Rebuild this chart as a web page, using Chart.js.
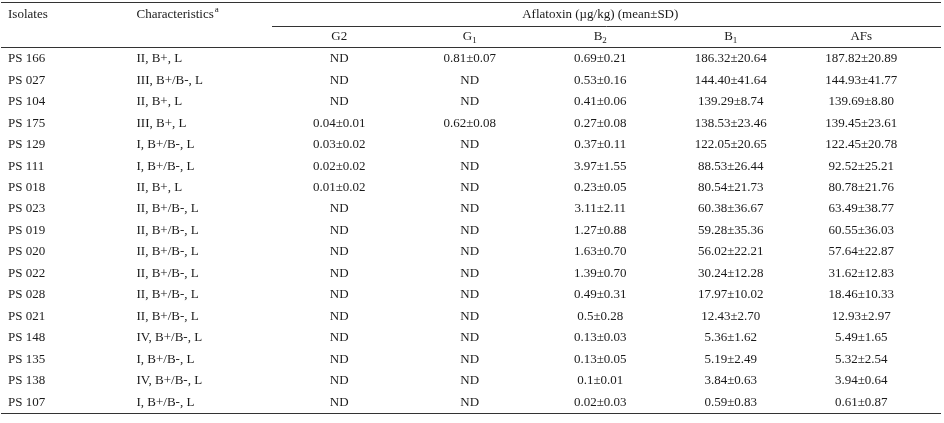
<!DOCTYPE html>
<html><head><meta charset="utf-8">
<script src="https://cdn.jsdelivr.net/npm/chart.js@4"></script>
<style>html,body{margin:0;padding:0;background:#fff}#w{width:944px;height:423px}</style>
</head><body><div id="w"><canvas id="c"></canvas></div>
<script>
const columns = ['Isolates','Characteristics','G2','G1','B2','B1','AFs'];
const isolates = ['PS 166','PS 027','PS 104','PS 175','PS 129','PS 111','PS 018','PS 023','PS 019','PS 020','PS 022','PS 028','PS 021','PS 148','PS 135','PS 138','PS 107'];
const characteristics = ['II, B+, L','III, B+/B-, L','II, B+, L','III, B+, L','I, B+/B-, L','I, B+/B-, L','II, B+, L','II, B+/B-, L','II, B+/B-, L','II, B+/B-, L','II, B+/B-, L','II, B+/B-, L','II, B+/B-, L','IV, B+/B-, L','I, B+/B-, L','IV, B+/B-, L','I, B+/B-, L'];
const g2 = ['ND','ND','ND','0.04±0.01','0.03±0.02','0.02±0.02','0.01±0.02','ND','ND','ND','ND','ND','ND','ND','ND','ND','ND'];
const g1 = ['0.81±0.07','ND','ND','0.62±0.08','ND','ND','ND','ND','ND','ND','ND','ND','ND','ND','ND','ND','ND'];
const b2 = ['0.69±0.21','0.53±0.16','0.41±0.06','0.27±0.08','0.37±0.11','3.97±1.55','0.23±0.05','3.11±2.11','1.27±0.88','1.63±0.70','1.39±0.70','0.49±0.31','0.5±0.28','0.13±0.03','0.13±0.05','0.1±0.01','0.02±0.03'];
const b1 = ['186.32±20.64','144.40±41.64','139.29±8.74','138.53±23.46','122.05±20.65','88.53±26.44','80.54±21.73','60.38±36.67','59.28±35.36','56.02±22.21','30.24±12.28','17.97±10.02','12.43±2.70','5.36±1.62','5.19±2.49','3.84±0.63','0.59±0.83'];
const afs = ['187.82±20.89','144.93±41.77','139.69±8.80','139.45±23.61','122.45±20.78','92.52±25.21','80.78±21.76','63.49±38.77','60.55±36.03','57.64±22.87','31.62±12.83','18.46±10.33','12.93±2.97','5.49±1.65','5.32±2.54','3.94±0.64','0.61±0.87'];
const colValues = [isolates, characteristics, g2, g1, b2, b1, afs];

const points = [];
colValues.forEach((vals, ci) => vals.forEach((v, ri) => points.push({x: columns[ci], y: isolates[ri], t: v, ci})));

const FONT = '13px "Liberation Serif", "Times New Roman", serif';
const SMALL = '9px "Liberation Serif", serif';
const INK = '#1a1a1a';

const tablePlugin = {
  id: 'table',
  afterDatasetsDraw(chart) {
    const ctx = chart.ctx, xs = chart.scales.x, ca = chart.chartArea;
    const band = xs.getPixelForValue(1) - xs.getPixelForValue(0);
    ctx.save();
    ctx.fillStyle = INK; ctx.font = FONT; ctx.textBaseline = 'middle';
    const meta = chart.getDatasetMeta(0);
    meta.data.forEach((el, i) => {
      const p = points[i];
      if (p.ci < 2) { ctx.textAlign = 'left'; ctx.fillText(p.t, el.x - band/2 + (p.ci === 0 ? -5 : -7), el.y); }
      else { ctx.textAlign = 'center'; ctx.fillText(p.t, el.x, el.y); }
    });
    // headers
    const y1 = 15, y2 = 37;
    ctx.textAlign = 'left';
    ctx.fillText('Isolates', xs.getPixelForValue(0) - band/2 - 5, y1);
    const cx = xs.getPixelForValue(1) - band/2 - 7;
    ctx.fillText('Characteristics', cx, y1);
    const w = ctx.measureText('Characteristics').width;
    ctx.font = SMALL; ctx.fillText('a', cx + w + 1, y1 - 5);
    ctx.font = FONT; ctx.textAlign = 'center';
    const mid = (xs.getPixelForValue(2) + xs.getPixelForValue(6)) / 2;
    ctx.fillText('Aflatoxin (µg/kg) (mean±SD)', mid, y1);
    const subs = [['G2',''],['G','1'],['B','2'],['B','1'],['AFs','']];
    subs.forEach((s, k) => {
      const x = xs.getPixelForValue(k + 2);
      ctx.font = FONT;
      const mw = ctx.measureText(s[0]).width;
      ctx.font = SMALL;
      const sw = s[1] ? ctx.measureText(s[1]).width : 0;
      const start = x - (mw + sw) / 2;
      ctx.font = FONT; ctx.textAlign = 'left'; ctx.fillText(s[0], start, y2);
      if (s[1]) { ctx.font = SMALL; ctx.fillText(s[1], start + mw, y2 + 4); }
    });
    // rules
    ctx.strokeStyle = '#333'; ctx.lineWidth = 1;
    const line = (xa, xb, y) => { ctx.beginPath(); ctx.moveTo(xa, y + 0.5); ctx.lineTo(xb, y + 0.5); ctx.stroke(); };
    line(1, 941, 2);
    line(xs.getPixelForValue(2) - band/2 - 2, 941, 26);
    line(1, 941, Math.round(ca.top) - 1);
    line(1, 941, Math.round(ca.bottom));
    ctx.restore();
  }
};

new Chart(document.getElementById('c'), {
  type: 'scatter',
  data: { datasets: [{ data: points, pointRadius: 0, pointHoverRadius: 0 }] },
  options: {
    responsive: true, maintainAspectRatio: false, animation: false,
    layout: { padding: { left: 13, right: 17.5, top: 48, bottom: 10 } },
    plugins: { legend: { display: false }, tooltip: { enabled: false } },
    scales: {
      x: { type: 'category', labels: columns, offset: true, display: false },
      y: { type: 'category', labels: isolates, offset: true, display: false }
    }
  },
  plugins: [tablePlugin]
});
</script></body></html>
